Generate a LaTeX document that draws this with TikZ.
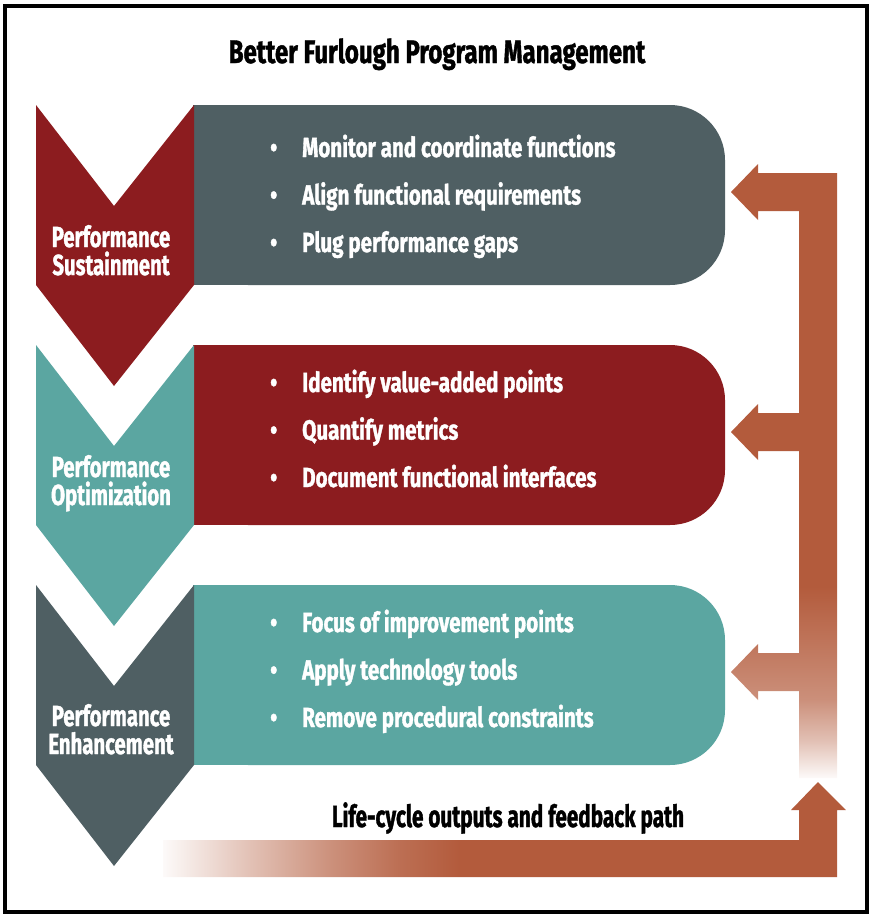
\documentclass[tikz,border=0pt]{standalone}
\usepackage{fontspec}
\newfontfamily\itemfont{Fira Sans}[FakeStretch=0.745, FakeBold=1.2]
\newfontfamily\labelfont{Fira Sans}[FakeStretch=0.70, FakeBold=1.2]
\newfontfamily\headfont{Fira Sans}[FakeStretch=0.68, FakeBold=1.2]
\newfontfamily\titlefont{Fira Sans}[FakeStretch=0.74, FakeBold=1.2]

\definecolor{slate}{RGB}{79,95,99}
\definecolor{furred}{RGB}{140,28,31}
\definecolor{fteal}{RGB}{91,166,161}
\definecolor{rust}{RGB}{179,91,60}
\colorlet{rustF}{rust!3}
\colorlet{rustA}{rust!38}
\colorlet{rustB}{rust!68}
\colorlet{rustC}{rust!88}

% Degradados de las flechas
\pgfdeclareverticalshading{fadeup}{100bp}{color(0bp)=(rustF); color(25bp)=(rustF);
  color(28bp)=(rustA); color(31.4bp)=(rustB); color(40.6bp)=(rust); color(100bp)=(rust)}
\pgfdeclarehorizontalshading{fadein}{100bp}{color(0bp)=(rustF); color(25bp)=(rustF);
  color(31.4bp)=(rustA); color(37.4bp)=(rustB); color(42.3bp)=(rustC); color(46.7bp)=(rust); color(100bp)=(rust)}

\tikzset{
  label/.style={text=white, font=\labelfont\bfseries\fontsize{29}{28}\selectfont, align=center, anchor=base, inner sep=0pt},
  items/.style={text=white, font=\itemfont\bfseries\fontsize{27.6}{47.5}\selectfont, align=left, anchor=base west, inner sep=0pt},
  heading/.style={font=\headfont\bfseries\fontsize{30.5}{32}\selectfont, anchor=base, inner sep=0pt}
}
\newcommand{\itm}{\makebox[32pt][l]{\textbullet}}

\begin{document}
\begin{tikzpicture}[x=1pt, y=-1pt]
    \useasboundingbox (0,0) rectangle (871,916);

    % Marco
    \draw[line width=3.5pt] (5,6) rectangle (867,912);

    % Titulo
    \node[heading, font=\titlefont\bfseries\fontsize{32.5}{34}\selectfont] (title) at (437,63) {Better Furlough Program Management};

    % Cajas
    \fill[slate, rounded corners=55pt] (193,105) rectangle (725,285);
    \fill[slate] (193,105) rectangle (300,285);
    \fill[furred, rounded corners=55pt] (193,345) rectangle (725,525);
    \fill[furred] (193,345) rectangle (300,525);
    \fill[fteal, rounded corners=55pt] (193,585) rectangle (725,765);
    \fill[fteal] (193,585) rectangle (300,765);

    % Chevrones
    \fill[furred] (36,105) -- (114,206) -- (194,105) -- (194,285) -- (114,386) -- (36,285) -- cycle;
    \fill[fteal] (36,345) -- (114,446) -- (194,345) -- (194,525) -- (114,626) -- (36,525) -- cycle;
    \fill[slate] (36,585) -- (114,686) -- (194,585) -- (194,765) -- (114,866) -- (36,765) -- cycle;

    % Etiquetas
    \node[label] (sust) at (111,275) {Performance\\Sustainment};
    \node[label] (optim) at (111,505) {Performance\\Optimization};
    \node[label] (enh) at (111,754) {Performance\\Enhancement};

    % Puntos
    \node[items] (list1) at (270,252) {\itm Monitor and coordinate functions\\\itm Align functional requirements\\\itm Plug performance gaps};
    \node[items] (list2) at (270,487) {\itm Identify value-added points\\\itm Quantify metrics\\\itm Document functional interfaces};
    \node[items] (list3) at (270,727) {\itm Focus of improvement points\\\itm Apply technology tools\\\itm Remove procedural constraints};

    % Retroalimentacion
    \shade[shading=fadeup] (837,173) -- (758,173) -- (758,164) -- (731,192) -- (758,220) -- (758,211)
      -- (799,211) -- (799,413) -- (758,413) -- (758,404) -- (731,432) -- (758,460) -- (758,451)
      -- (799,451) -- (799,653) -- (758,653) -- (758,644) -- (731,672) -- (758,700) -- (758,691)
      -- (799,691) -- (799,778) -- (837,778) -- cycle;
    \shade[shading=fadein] (163,840) -- (799,840) -- (799,810) -- (791,810) -- (818,782) -- (846,810)
      -- (837,810) -- (837,877) -- (163,877) -- cycle;
    \node[heading] (path) at (508,827) {Life-cycle outputs and feedback path};
\end{tikzpicture}
\end{document}
